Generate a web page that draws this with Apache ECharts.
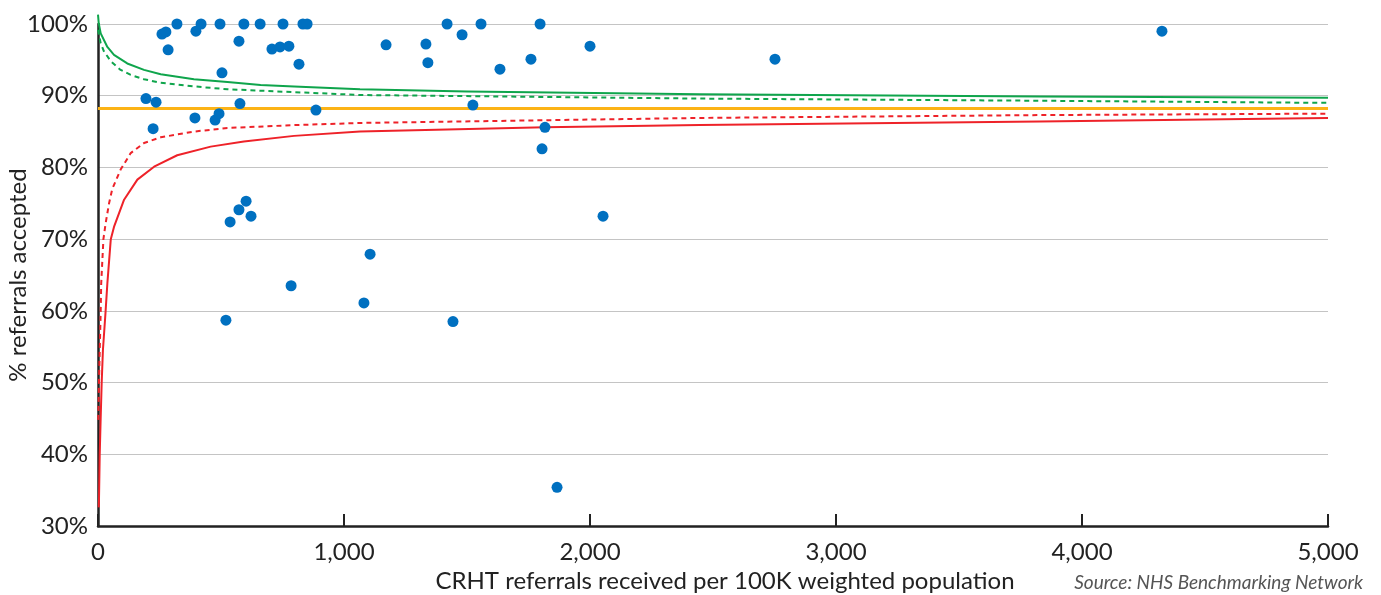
<!DOCTYPE html>
<html>
<head>
<meta charset="utf-8">
<script src="https://cdn.jsdelivr.net/npm/echarts@6/dist/echarts.min.js"></script>
<style>html,body{margin:0;padding:0;background:#fff}#c{width:1381px;height:595px}</style>
</head>
<body>
<div id="c"></div>
<script>
// Scatter points (x = referrals per 100K, y = % accepted)
var pointX = [195,224,236,260,276,285,321,398,419,394,496,504,476,492,573,577,593,659,707,740,776,752,817,833,850,886,
              537,573,602,622,520,785,
              1106,1081,1443,1866,
              1171,1333,1419,1480,1557,1341,1634,1760,1797,2000,1524,1817,1805,2053,2752,4325];
var pointY = [89.6,85.4,89.1,98.6,98.9,96.4,100,99.0,100,86.9,100,93.2,86.6,87.5,97.6,88.9,100,100,96.5,96.8,96.9,100,94.4,100,100,88.0,
              72.4,74.1,75.3,73.2,58.7,63.5,
              67.9,61.1,58.5,35.4,
              97.1,97.2,100,98.5,100,94.6,93.7,95.1,100,96.9,88.7,85.6,82.6,73.2,95.1,99.0];

// Mean line
var meanX = [0, 5000];
var meanY = [88.2, 88.2];

// Upper 99.8% limit (green solid)
var up998X = [0, 3, 11, 38, 65, 119, 187, 255, 390, 526, 661, 797, 1065, 1500, 2447, 3829, 5000];
var up998Y = [101.3, 100.1, 98.7, 96.8, 95.7, 94.5, 93.6, 93.0, 92.3, 91.9, 91.5, 91.3, 90.9, 90.6, 90.2, 89.9, 89.7];

// Upper 95% limit (green dashed)
var up95X = [0, 11, 24, 52, 92, 133, 187, 255, 390, 526, 661, 797, 1065, 2447, 3829, 5000];
var up95Y = [99.2, 97.3, 96.2, 94.8, 93.6, 92.9, 92.3, 91.8, 91.3, 90.9, 90.7, 90.5, 90.1, 89.6, 89.3, 89.0];

// Lower 95% limit (red dashed)
var lo95X = [1, 4, 7, 11, 13, 22, 31, 45, 58, 92, 133, 187, 255, 390, 526, 797, 1065, 2447, 3829, 5000];
var lo95Y = [44.8, 50.0, 54.5, 60.0, 63.8, 70.0, 72.2, 75.0, 77.0, 79.7, 82.0, 83.4, 84.2, 85.0, 85.5, 85.9, 86.2, 86.9, 87.3, 87.5];

// Lower 99.8% limit (red solid)
var lo998X = [3, 4, 7, 11, 15, 20, 31, 38, 52, 65, 106, 160, 228, 322, 458, 593, 797, 1065, 1817, 2447, 3829, 5000];
var lo998Y = [32.6, 33.6, 40.0, 45.2, 50.0, 54.5, 60.0, 63.8, 70.0, 71.7, 75.5, 78.3, 80.1, 81.7, 82.9, 83.6, 84.4, 85.0, 85.6, 85.9, 86.4, 86.9];

// Axis ticks
var xTicks = [0, 1000, 2000, 3000, 4000, 5000];
var yTicks = [30, 40, 50, 60, 70, 80, 90, 100];

function zip(a, b) { return a.map(function (v, i) { return [v, b[i]]; }); }

var font = 'Lato, "Noto Sans", sans-serif';
var chart = echarts.init(document.getElementById('c'), null, { renderer: 'canvas' });

function lineSeries(xs, ys, color, width, dashed, z) {
  return {
    type: 'line', data: zip(xs, ys), showSymbol: false, symbol: 'none',
    smooth: false, clip: false, z: z, silent: true,
    lineStyle: { color: color, width: width, type: dashed ? [5, 4] : 'solid', join: 'round', cap: 'butt' }
  };
}

chart.setOption({
  animation: false,
  grid: { left: 98, right: 53, top: 24, bottom: 69, containLabel: false, outerBoundsMode: 'none' },
  xAxis: {
    type: 'value', min: xTicks[0], max: xTicks[xTicks.length - 1], interval: 1000,
    name: 'CRHT referrals received per 100K weighted population',
    nameLocation: 'middle', nameGap: 43, nameMoveOverlap: false,
    nameTextStyle: { fontFamily: font, fontSize: 24, color: '#222', padding: [0, 0, 0, 24] },
    axisLine: { show: true, lineStyle: { color: '#222', width: 2.5 } },
    axisTick: { show: true, inside: true, length: 12, lineStyle: { color: '#222', width: 2 } },
    axisLabel: {
      fontFamily: font, fontSize: 24, color: '#222', margin: 14,
      formatter: function (v) { return v.toLocaleString('en-US'); }
    },
    splitLine: { show: false }
  },
  yAxis: {
    type: 'value', min: yTicks[0], max: yTicks[yTicks.length - 1], interval: 10,
    name: '% referrals accepted', nameLocation: 'middle', nameGap: 68, nameMoveOverlap: false,
    nameTextStyle: { fontFamily: font, fontSize: 24, color: '#222' },
    axisLine: { show: true, lineStyle: { color: '#222', width: 2.5 } },
    axisTick: { show: false },
    axisLabel: { fontFamily: font, fontSize: 24, color: '#222', margin: 10, formatter: '{value}%' },
    splitLine: { show: true, lineStyle: { color: '#c4c4c4', width: 1.2 } }
  },
  series: [
    lineSeries(meanX, meanY, '#fcb316', 3, false, 3),
    lineSeries(up998X, up998Y, '#0fa54c', 2, false, 4),
    lineSeries(up95X, up95Y, '#0fa54c', 2, true, 4),
    lineSeries(lo95X, lo95Y, '#ee2229', 2, true, 4),
    lineSeries(lo998X, lo998Y, '#ee2229', 2, false, 4),
    {
      type: 'scatter', data: zip(pointX, pointY), symbol: 'circle', symbolSize: 11, clip: false, z: 5,
      itemStyle: { color: '#0070c0', opacity: 1 }
    }
  ],
  graphic: [{
    type: 'text', right: 18, top: 573,
    style: { text: 'Source: NHS Benchmarking Network', fontFamily: font, fontSize: 19, fontStyle: 'italic', fill: '#555' }
  }]
});
</script>
</body>
</html>
